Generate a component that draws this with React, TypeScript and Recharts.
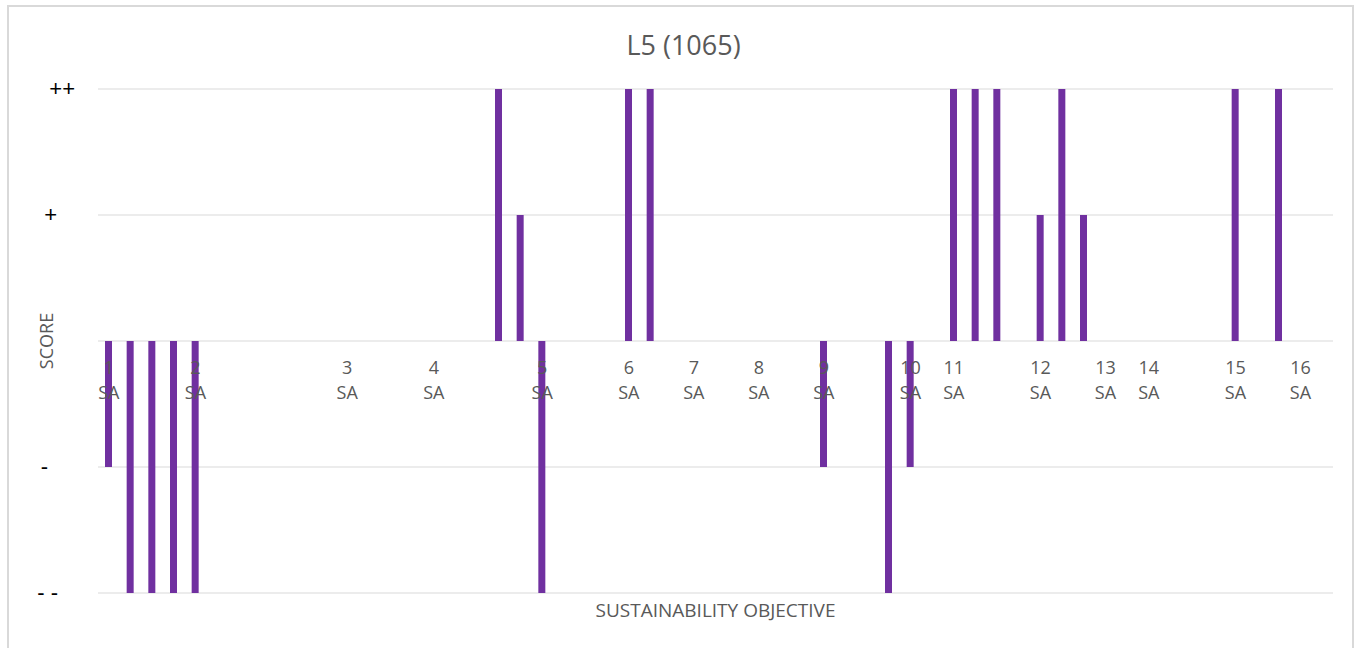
import { BarChart, Bar, XAxis, YAxis, CartesianGrid } from 'recharts';

// One slot per assessed item; only the first item of each objective carries a label
const slotLabels = [
  '1', '', '', '', '2', '', '', '', '', '', '', '3', '', '', '', '4', '', '', '', '',
  '5', '', '', '', '6', '', '', '7', '', '', '8', '', '', '9', '', '', '', '10', '', '11',
  '', '', '', '12', '', '', '13', '', '14', '', '', '', '15', '', '', '16', '',
];

// -2 = "- -", -1 = "-", 1 = "+", 2 = "++", null = no score
const scores: (number | null)[] = [
  -1, -2, -2, -2, -2, null, null, null, null, null, null, null, null, null, null, null, null, null, 2, 1,
  -2, null, null, null, 2, 2, null, null, null, null, null, null, null, -1, null, null, -2, -1, null, 2,
  2, 2, null, 1, 2, 1, null, null, null, null, null, null, 2, null, 2, null, null,
];

const scoreTicks = [-2, -1, 0, 1, 2];
const scoreTickLabels: Record<number, string> = { [-2]: '- -', [-1]: '-', 0: '', 1: '+', 2: '++' };

const chartData = slotLabels.map((label, i) => ({ slot: i, label, score: scores[i] }));

const WIDTH = 1359;
const HEIGHT = 648;
const PLOT_TOP = 89;
const X_AXIS_H = 55;
const Y_AXIS_W = 98;
const PLOT_H = HEIGHT - PLOT_TOP - X_AXIS_H;
const FONT = '"Open Sans", sans-serif';
const GREY = '#595959';

// y tick labels in the original sit at slightly uneven offsets from the plot edge
const yTickOffset: Record<number, number> = { [-2]: -40, [-1]: -50, 0: 0, 1: -41, 2: -23 };

const XTick = (props: any) => {
  const { x, y, payload } = props;
  const label = slotLabels[payload.value];
  if (!label) return null;
  const zeroY = y - PLOT_H / 2;
  return (
    <text x={x} y={zeroY + 33} textAnchor="middle" fill={GREY} fontSize={18} fontFamily={FONT}>
      <tspan x={x}>{label}</tspan>
      <tspan x={x} dy={25}>SA</tspan>
    </text>
  );
};

const YTick = (props: any) => {
  const { x, y, payload } = props;
  return (
    <text
      x={x + yTickOffset[payload.value]}
      y={y}
      dy={7}
      textAnchor="end"
      fill="#000"
      fontSize={22}
      fontFamily='"Liberation Sans", Arial, sans-serif'
    >
      {scoreTickLabels[payload.value]}
    </text>
  );
};

export default function App() {
  return (
    <div style={{ position: 'absolute', left: 0, top: 0, width: WIDTH, height: HEIGHT, background: '#fff', overflow: 'hidden' }}>
      <div
        style={{
          position: 'absolute', left: 7, top: 5, width: 1347, height: 700,
          border: '2px solid #d9d9d9', boxSizing: 'border-box',
        }}
      />
      <div
        style={{
          position: 'absolute', left: 4, top: 30, width: WIDTH, textAlign: 'center',
          fontFamily: FONT, fontSize: 27, lineHeight: '30px', color: GREY,
        }}
      >
        L5 (1065)
      </div>
      <BarChart
        width={WIDTH}
        height={HEIGHT}
        data={chartData}
        margin={{ top: PLOT_TOP, right: 26, bottom: 0, left: 0 }}
        style={{ position: 'absolute', left: 0, top: 0 }}
      >
        <CartesianGrid vertical={false} stroke="#d9d9d9" />
        <XAxis
          dataKey="slot"
          type="category"
          interval={0}
          height={X_AXIS_H}
          axisLine={false}
          tickLine={false}
          tickSize={0}
          tickMargin={0}
          tick={XTick}
          label={{ value: 'SUSTAINABILITY OBJECTIVE', position: 'insideTop', offset: 11, fill: GREY, fontSize: 19, fontFamily: FONT }}
        />
        <YAxis
          type="number"
          domain={[-2, 2]}
          ticks={scoreTicks}
          interval={0}
          width={Y_AXIS_W}
          axisLine={false}
          tickLine={false}
          tickSize={0}
          tickMargin={0}
          tick={YTick}
          label={{
            content: (p: any) => {
              const vb = p.viewBox;
              const cx = vb.x + 46;
              const cy = vb.y + vb.height / 2;
              return (
                <text
                  x={cx}
                  y={cy}
                  transform={`rotate(-90 ${cx} ${cy})`}
                  textAnchor="middle"
                  dominantBaseline="central"
                  fill={GREY}
                  fontSize={18}
                  fontFamily={FONT}
                >
                  SCORE
                </text>
              );
            },
          }}
        />
        <Bar dataKey="score" fill="#7030A0" barSize={7} isAnimationActive={false} />
      </BarChart>
    </div>
  );
}
